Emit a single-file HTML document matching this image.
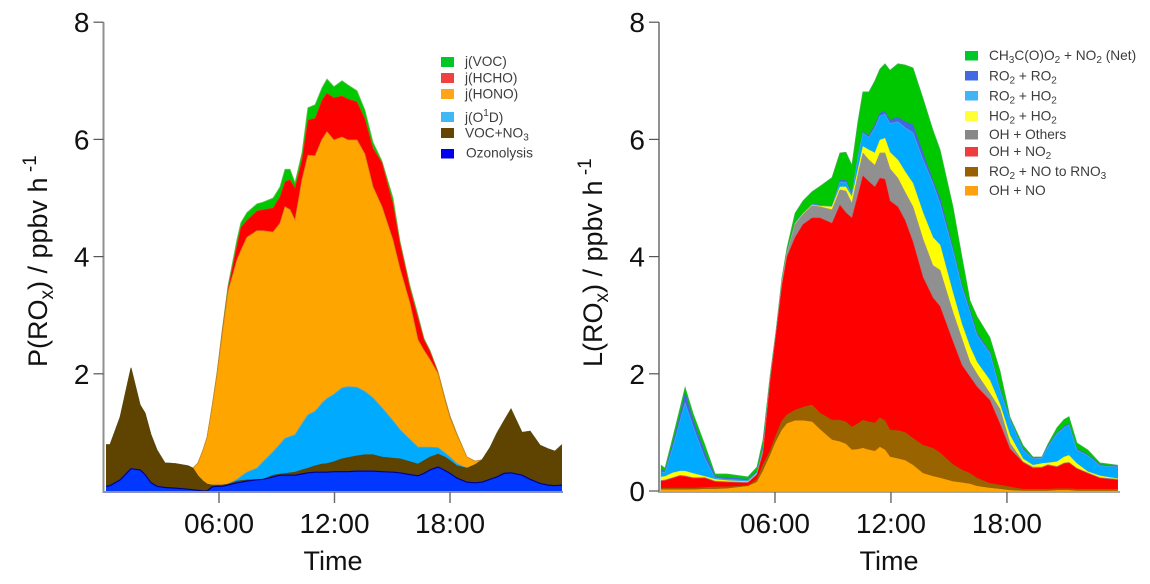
<!DOCTYPE html>
<html>
<head>
<meta charset="utf-8">
<title>P(ROx) and L(ROx) budget</title>
<style>
html,body{margin:0;padding:0;background:#fff;width:1150px;height:584px;overflow:hidden}
svg{display:block;font-family:"Liberation Sans",Arial,sans-serif;filter:blur(0.35px)}
.tk{font-size:28px;fill:#111}
.ttl{font-size:27px;fill:#111}
.lg{font-size:13.7px;fill:#3c3c3c}
.sub{font-size:10px}
</style>
</head>
<body>
<svg id="chart" width="1150" height="584" viewBox="0 0 1150 584" xmlns="http://www.w3.org/2000/svg">
  <g id="panel-p"></g>
  <g id="panel-l"></g>

  <text class="ttl" transform="translate(47,367) rotate(-90)">P(RO<tspan font-size="19" dy="6">x</tspan><tspan dy="-6">) / ppbv h</tspan><tspan font-size="19" dy="-11"> -1</tspan></text>
  <text class="ttl" x="333" y="570" text-anchor="middle">Time</text>
  <text class="ttl" transform="translate(602,367) rotate(-90)">L(RO<tspan font-size="19" dy="6">x</tspan><tspan dy="-6">) / ppbv h</tspan><tspan font-size="19" dy="-11"> -1</tspan></text>
  <text class="ttl" x="889" y="570" text-anchor="middle">Time</text>

  <g>
    <g><rect x="441" y="57" width="13" height="10" fill="#00c828"/><text class="lg" x="465" y="66">j(VOC)</text></g>
    <g><rect x="441" y="73" width="13" height="10" fill="#f04040"/><text class="lg" x="465" y="82.5">j(HCHO)</text></g>
    <g><rect x="441" y="89" width="13" height="10" fill="#ffa518"/><text class="lg" x="465" y="98.5">j(HONO)</text></g>
    <g><rect x="441" y="112" width="13" height="10" fill="#40b8f5"/><text class="lg" x="465" y="122">j(O<tspan class="sub" dy="-6">1</tspan><tspan dy="6">D)</tspan></text></g>
    <g><rect x="441" y="128" width="13" height="10" fill="#664400"/><text class="lg" x="465" y="137.5">VOC+NO<tspan class="sub" dy="3">3</tspan></text></g>
    <g><rect x="441" y="149" width="13" height="9.5" fill="#0000ee"/><text class="lg" x="466" y="157.5">Ozonolysis</text></g>
  </g>

  <g>
    <g><rect x="965" y="51" width="13" height="9.5" fill="#00c82a"/><text class="lg" x="989" y="60">CH<tspan class="sub" dy="3">3</tspan><tspan dy="-3">C(O)O</tspan><tspan class="sub" dy="3">2</tspan><tspan dy="-3"> + NO</tspan><tspan class="sub" dy="3">2</tspan><tspan dy="-3"> (Net)</tspan></text></g>
    <g><rect x="965" y="71" width="13" height="9.5" fill="#4169e1"/><text class="lg" x="989" y="80.5">RO<tspan class="sub" dy="3">2</tspan><tspan dy="-3"> + RO</tspan><tspan class="sub" dy="3">2</tspan></text></g>
    <g><rect x="965" y="91" width="13" height="9.5" fill="#40b4f5"/><text class="lg" x="989" y="100.5">RO<tspan class="sub" dy="3">2</tspan><tspan dy="-3"> + HO</tspan><tspan class="sub" dy="3">2</tspan></text></g>
    <g><rect x="965" y="111" width="13" height="10" fill="#ffff33"/><text class="lg" x="989" y="120.5">HO<tspan class="sub" dy="3">2</tspan><tspan dy="-3"> + HO</tspan><tspan class="sub" dy="3">2</tspan></text></g>
    <g><rect x="965" y="130" width="13" height="9.5" fill="#888888"/><text class="lg" x="989" y="139">OH + Others</text></g>
    <g><rect x="965" y="147" width="13" height="9.5" fill="#f03c3c"/><text class="lg" x="989" y="156">OH + NO<tspan class="sub" dy="3">2</tspan></text></g>
    <g><rect x="965" y="167" width="13" height="9.5" fill="#996000"/><text class="lg" x="989" y="176">RO<tspan class="sub" dy="3">2</tspan><tspan dy="-3"> + NO to RNO</tspan><tspan class="sub" dy="3">3</tspan></text></g>
    <g><rect x="965" y="186" width="13" height="9.5" fill="#ffa010"/><text class="lg" x="989" y="195">OH + NO</text></g>
  </g>
</svg>
<script>
// ---- shared axis labels ----
const xTickHours = [6, 12, 18];
const xTickLabels = ['06:00', '12:00', '18:00'];
const leftYTicks = [2, 4, 6, 8];
const rightYTicks = [0, 2, 4, 6, 8];

// ---- production panel data (ppbv/h), stacked bottom to top ----
const pHours = [0.13,0.34,0.86,1.43,1.90,2.16,2.47,2.78,3.19,3.71,
  4.39,4.65,4.91,5.17,5.38,5.64,5.90,6.16,6.47,6.94,
  7.14,7.45,7.97,8.29,8.81,9.17,9.43,9.69,9.95,10.31,
  10.62,10.99,11.35,11.61,11.97,12.39,12.70,13.17,13.58,14.0,
  14.47,15.04,15.40,15.92,16.34,16.65,16.96,17.38,17.74,18.0,
  18.36,18.88,19.30,19.66,20.08,20.44,20.81,21.17,21.74,22.16,
  22.68,23.09,23.45,23.82];
const pOzonolysis = [.08,.09,.19,.38,.36,.28,.14,.08,.06,.05,
  .03,.02,.01,0,0,.07,.08,.08,.10,.14,
  .15,.17,.19,.20,.24,.27,.27,.27,.27,.29,
  .31,.32,.32,.32,.33,.33,.33,.34,.34,.34,
  .33,.32,.31,.28,.26,.30,.36,.41,.35,.30,
  .22,.15,.14,.15,.20,.24,.30,.31,.27,.20,
  .13,.10,.09,.10];
const pVocNo3 = [.71,.70,1.07,1.72,1.11,1.05,.82,.62,.42,.42,
  .40,.37,.25,.17,.12,.03,.02,.02,.02,.03,
  .03,.02,.01,0,.03,.02,.03,.04,.05,.07,
  .08,.11,.14,.15,.17,.22,.24,.26,.28,.28,
  .25,.24,.24,.22,.20,.22,.22,.22,.23,.22,
  .21,.24,.31,.38,.54,.75,.90,1.09,.73,.82,
  .65,.62,.59,.69];
const pJO1D = [0,0,0,0,0,0,0,0,0,0,
  0,0,0,0,0,0,0,0,0,.03,
  .07,.13,.19,.30,.40,.51,.60,.62,.64,.79,
  .91,.93,1.04,1.11,1.15,1.21,1.21,1.17,1.08,.97,
  .84,.64,.50,.38,.29,.23,.17,.11,.07,.06,
  .04,0,0,0,0,0,0,0,0,0,
  0,0,0,0];
const pJHONO = [0,0,0,0,0,0,0,0,0,0,
  0,0,.22,.53,.80,1.33,1.90,2.55,3.28,3.75,
  3.85,4.01,4.05,3.94,3.75,3.77,3.95,3.87,3.66,4.16,
  4.43,4.36,4.50,4.55,4.34,4.28,4.21,4.22,4.05,3.60,
  3.43,3.08,2.75,2.32,1.83,1.65,1.49,1.26,.90,.67,
  .49,.19,.06,0,0,0,0,0,0,0,
  0,0,0,0];
const pJHCHO = [0,0,0,0,0,0,0,0,0,0,
  0,0,0,0,0,.01,.02,.05,.05,.25,
  .40,.29,.34,.36,.41,.45,.43,.51,.55,.34,
  .60,.64,.67,.66,.72,.70,.70,.65,.60,.66,
  .75,.62,.43,.25,.37,.18,.14,.02,.02,.02,
  .01,0,0,0,0,0,0,0,0,0,
  0,0,0,0];
const pJVOC = [0,0,0,0,0,0,0,0,0,0,
  0,0,0,0,0,.01,.01,.03,.05,.10,
  .08,.13,.12,.13,.17,.17,.21,.18,.09,.12,
  .21,.23,.21,.24,.19,.26,.24,.19,.15,.10,
  .03,.10,.04,.05,.05,.02,.02,.01,.01,.01,
  .01,0,0,0,0,0,0,0,0,0,
  0,0,0,0];

// ---- loss panel data (ppbv/h), stacked bottom to top ----
const lHours = [.10,.31,.72,1.09,1.35,1.76,2.38,2.90,3.52,4.60,
  5.07,5.38,5.74,6.05,6.36,6.62,7.04,7.45,7.92,8.33,
  8.95,9.36,9.67,9.98,10.29,10.55,10.86,11.17,11.43,11.69,
  11.95,12.36,12.73,13.14,13.66,14.17,14.54,15.21,15.67,16.09,
  16.45,17.12,17.64,18.16,18.83,19.35,19.81,20.12,20.59,20.95,
  21.21,21.62,22.19,22.81,23.74];
const lOhNo = [.02,.02,.02,.02,.02,.02,.03,.03,.04,.08,
  .15,.34,.60,.84,1.04,1.15,1.20,1.20,1.18,1.05,
  .87,.84,.80,.70,.71,.73,.70,.68,.75,.70,
  .58,.55,.52,.44,.30,.25,.22,.16,.14,.12,
  .08,.05,.03,.01,0,0,0,0,.01,.01,
  .01,0,0,0,0];
const lRo2NoRno3 = [.03,.03,.03,.03,.03,.03,.03,.04,.03,.01,
  .05,.11,.08,.11,.16,.15,.18,.23,.29,.28,
  .34,.37,.38,.39,.44,.48,.48,.48,.50,.50,
  .46,.48,.48,.46,.48,.48,.43,.29,.22,.18,
  .14,.08,.07,.06,.03,.03,.03,.03,.03,.03,
  .03,.03,.03,.03,.03];
const lOhNo2 = [.12,.13,.17,.21,.20,.17,.16,.09,.08,.05,
  .08,.20,1.17,1.71,2.30,2.70,2.95,3.12,3.19,3.33,
  3.36,3.67,3.57,3.57,3.90,4.17,4.10,4.03,4.09,4.12,
  3.91,3.82,3.62,3.35,2.87,2.57,2.50,2.10,1.79,1.65,
  1.56,1.42,1.05,.65,.46,.36,.37,.41,.37,.43,
  .44,.35,.27,.19,.16];
const lOhOthers = [.01,.01,.01,.01,.01,.01,.01,.01,.01,.01,
  .01,.01,.01,.01,.05,.05,.22,.17,.21,.19,
  .23,.26,.37,.25,.35,.39,.37,.37,.43,.45,
  .55,.49,.48,.60,.65,.55,.62,.50,.45,.25,
  .22,.12,.25,.10,.01,.02,.01,.01,.01,.01,
  .01,.01,.01,.01,.01];
const lHo2Ho2 = [.06,.06,.08,.07,.08,.07,.02,.03,.02,.01,
  .01,.01,.01,.01,.01,.01,.01,.01,.01,.01,
  .05,.05,.07,.11,.08,.11,.17,.21,.22,.25,
  .28,.31,.35,.40,.45,.48,.43,.33,.25,.26,
  .20,.22,.08,.13,.05,.03,.06,.03,.08,.10,
  .12,.08,.02,.03,.01];
const lRo2Ho2 = [.09,.06,.44,.86,1.16,.80,.30,.02,.02,.02,
  .02,.03,.01,.01,.01,.01,.01,.01,.01,.01,
  .01,.08,.08,.03,.22,.23,.21,.43,.41,.41,
  .49,.65,.75,.86,.90,.92,.70,.72,.63,.59,
  .46,.46,.24,.26,.15,.11,.09,.27,.48,.50,
  .52,.23,.27,.17,.20];
const lRo2Ro2 = [.03,.03,.07,.10,.17,.12,.10,.03,.03,.02,
  .02,.05,.01,.01,.01,.01,.01,.01,.01,.01,
  .01,.03,.03,.03,.02,.02,.04,.05,.05,.05,
  .06,.08,.10,.14,.12,.05,.10,.05,.04,.05,
  .04,.03,.03,.02,.02,.01,.01,.02,.02,.02,
  .02,.02,.02,.02,.01];
const lPanNet = [.08,.05,.10,.12,.10,.11,.13,.04,.06,.04,
  .07,.12,.06,.02,.05,.07,.16,.20,.21,.32,
  .48,.47,.48,.48,.58,.68,.74,.75,.75,.81,
  .85,.91,.97,.97,.93,.86,.82,.70,.48,.15,
  .28,.24,.30,.03,.06,.02,.01,.03,.08,.12,
  .12,.10,.08,.03,.02];

const SVGNS = 'http://www.w3.org/2000/svg';
function mk(tag, parent) {
  const el = document.createElementNS(SVGNS, tag);
  parent.appendChild(el);
  return el;
}

function drawPanel(panel, opts, hours, series) {
  const yOf = v => 491 - v * 58.6;
  const xOf = h => opts.x0 + h * opts.pxPerHour;
  let cumulative = hours.map(() => 0);
  const tops = series.map(s => {
    cumulative = cumulative.map((c, i) => c + s.values[i]);
    return cumulative;
  });
  // paint from the top of the stack down so lower layers cover collapsed upper ones
  for (let k = series.length - 1; k >= 0; k--) {
    const pts = hours.map((h, i) => xOf(h).toFixed(1) + ',' + yOf(tops[k][i]).toFixed(1));
    const area = mk('polygon', panel);
    
    
    area.setAttribute('fill', series[k].color);
    const first = xOf(hours[0]).toFixed(1);
    const last = xOf(hours[hours.length - 1]).toFixed(1);
    area.setAttribute('points', first + ',491 ' + pts.join(' ') + ' ' + last + ',491');
    const edge = mk('polyline', panel);
    
    
    edge.setAttribute('fill', 'none');
    edge.setAttribute('stroke', series[k].edge);
    edge.setAttribute('stroke-width', series[k].edgeWidth);
    edge.setAttribute('points', pts.join(' '));
  }
  // y axis
  const yAxis = mk('line', panel);
  
  
  yAxis.setAttribute('x1', opts.x0);
  yAxis.setAttribute('x2', opts.x0);
  yAxis.setAttribute('y1', yOf(8));
  yAxis.setAttribute('y2', 492);
  yAxis.setAttribute('stroke', '#909090');
  yAxis.setAttribute('stroke-width', 2);
  // x axis
  const xAxis = mk('line', panel);
  
  
  xAxis.setAttribute('x1', opts.x0 - 1);
  xAxis.setAttribute('x2', opts.xEnd);
  xAxis.setAttribute('y1', 492);
  xAxis.setAttribute('y2', 492);
  xAxis.setAttribute('stroke', opts.xAxisColor);
  xAxis.setAttribute('stroke-width', 2);
  // y ticks
  opts.yTicks.forEach(v => {
    const t = mk('line', panel);
    
    
    t.setAttribute('x1', opts.x0 - 10);
    t.setAttribute('x2', opts.x0);
    t.setAttribute('y1', yOf(v));
    t.setAttribute('y2', yOf(v));
    t.setAttribute('stroke', '#555');
    t.setAttribute('stroke-width', 1.2);
    const lab = mk('text', panel);
    
    
    lab.setAttribute('class', 'tk');
    lab.setAttribute('text-anchor', 'end');
    lab.setAttribute('x', opts.x0 - 14);
    lab.setAttribute('y', yOf(v) + 10);
    lab.textContent = String(v);
  });
  // x ticks
  xTickHours.forEach((h, i) => {
    const t = mk('line', panel);
    
    
    t.setAttribute('x1', xOf(h));
    t.setAttribute('x2', xOf(h));
    t.setAttribute('y1', 492);
    t.setAttribute('y2', 503);
    t.setAttribute('stroke', '#666');
    t.setAttribute('stroke-width', 1.4);
    const lab = mk('text', panel);
    
    
    lab.setAttribute('class', 'tk');
    lab.setAttribute('text-anchor', 'middle');
    lab.setAttribute('x', xOf(h));
    lab.setAttribute('y', 533);
    lab.textContent = xTickLabels[i];
  });
}

drawPanel(document.getElementById('panel-p'),
  {side: 'left', x0: 103.5, pxPerHour: 19.25, xEnd: 563, yTicks: leftYTicks, xAxisColor: '#8a92b4'},
  pHours,
  [
    {name: 'ozonolysis', values: pOzonolysis, color: '#0038ff', edge: '#000090', edgeWidth: 1.2},
    {name: 'voc-no3', values: pVocNo3, color: '#5f4300', edge: '#5f4300', edgeWidth: 0.6},
    {name: 'j-o1d', values: pJO1D, color: '#00aaff', edge: '#5aa8c8', edgeWidth: 0.8},
    {name: 'j-hono', values: pJHONO, color: '#ffa500', edge: '#d08a20', edgeWidth: 0.8},
    {name: 'j-hcho', values: pJHCHO, color: '#ff0000', edge: '#e04010', edgeWidth: 0.6},
    {name: 'j-voc', values: pJVOC, color: '#00c800', edge: '#60c050', edgeWidth: 0.8}
  ]);

drawPanel(document.getElementById('panel-l'),
  {side: 'right', x0: 659, pxPerHour: 19.33, xEnd: 1120, yTicks: rightYTicks, xAxisColor: '#a8a8a0'},
  lHours,
  [
    {name: 'oh-no', values: lOhNo, color: '#ffa500', edge: '#ffa500', edgeWidth: 0.5},
    {name: 'ro2-no-to-rno3', values: lRo2NoRno3, color: '#996300', edge: '#996300', edgeWidth: 0.5},
    {name: 'oh-no2', values: lOhNo2, color: '#ff0000', edge: '#f03030', edgeWidth: 0.5},
    {name: 'oh-others', values: lOhOthers, color: '#909090', edge: '#a09090', edgeWidth: 0.5},
    {name: 'ho2-ho2', values: lHo2Ho2, color: '#ffff00', edge: '#e8e820', edgeWidth: 0.5},
    {name: 'ro2-ho2', values: lRo2Ho2, color: '#00aaff', edge: '#60a8e0', edgeWidth: 0.6},
    {name: 'ro2-ro2', values: lRo2Ro2, color: '#4069e0', edge: '#4069e0', edgeWidth: 0.5},
    {name: 'pan-net', values: lPanNet, color: '#00c800', edge: '#40b050', edgeWidth: 0.7}
  ]);
</script>
</body>
</html>
